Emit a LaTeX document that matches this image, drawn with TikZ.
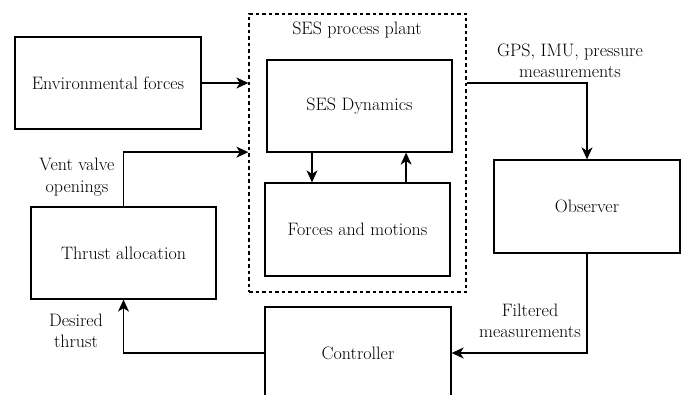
\documentclass[tikz,border=0pt]{standalone}
\usetikzlibrary{arrows.meta,calc}
\begin{document}
\begin{tikzpicture}[x=1pt,y=1pt,
  every node/.style={font=\rmfamily\fontsize{18}{21.5}\selectfont},
  blk/.style={draw,line width=1.3pt,minimum width=185pt,minimum height=92pt,inner sep=0pt},
  plantbox/.style={draw,dash pattern=on 3.5pt off 3pt,line width=1.3pt,minimum width=217pt,minimum height=278pt,inner sep=0pt},
  lbl/.style={align=center,inner sep=0pt},
  conn/.style={line width=1.3pt,-{Stealth[length=12pt,width=11pt,inset=3.5pt]}}
]
\useasboundingbox (0,0) rectangle (687,-395);
\clip (0,0) rectangle (687,-395);
\node[blk,minimum width=186pt] (env) at (108,-83) {Environmental forces};
\node[plantbox] (plant) at (357.5,-153) {};
\node[lbl] (plantlbl) at (357,-30) {SES process plant};
\node[blk] (dyn) at (359.5,-106) {SES Dynamics};
\node[blk,minimum height=93pt] (fm) at (357.5,-229.5) {Forces and motions};
\node[blk] (thrust) at (123.5,-253) {Thrust allocation};
\node[blk,minimum width=186pt,minimum height=93pt] (obs) at (587,-206.5) {Observer};
\node[blk,minimum width=186pt] (ctrl) at (358,-353) {Controller};

\node[lbl] (gpslbl) at (570,-61) {GPS, IMU, pressure\\measurements};
\node[lbl] (ventlbl) at (77,-177) {Vent valve\\openings};
\node[lbl] (deslbl) at (76,-331) {Desired\\thrust};
\node[lbl] (filtlbl) at (530,-321) {Filtered\\measurements};

\coordinate (d1) at ($(dyn.south west)!0.245!(dyn.south east)$);
\coordinate (d2) at ($(dyn.south west)!0.75!(dyn.south east)$);
\coordinate (ventend) at ($(dyn.south -| plant.west)+(0,0.5)$);

\draw[conn] (env.east) -- (env.east -| plant.west);
\draw[conn] (thrust.north) |- (ventend);
\draw[conn] (d1) -- (d1 |- fm.north);
\draw[conn] (d2 |- fm.north) -- (d2);
\draw[conn] (env.east -| plant.east) -| (obs.north);
\draw[conn] (obs.south) |- (ctrl.east);
\draw[conn] (ctrl.west) -| (thrust.south);
\end{tikzpicture}
\end{document}
